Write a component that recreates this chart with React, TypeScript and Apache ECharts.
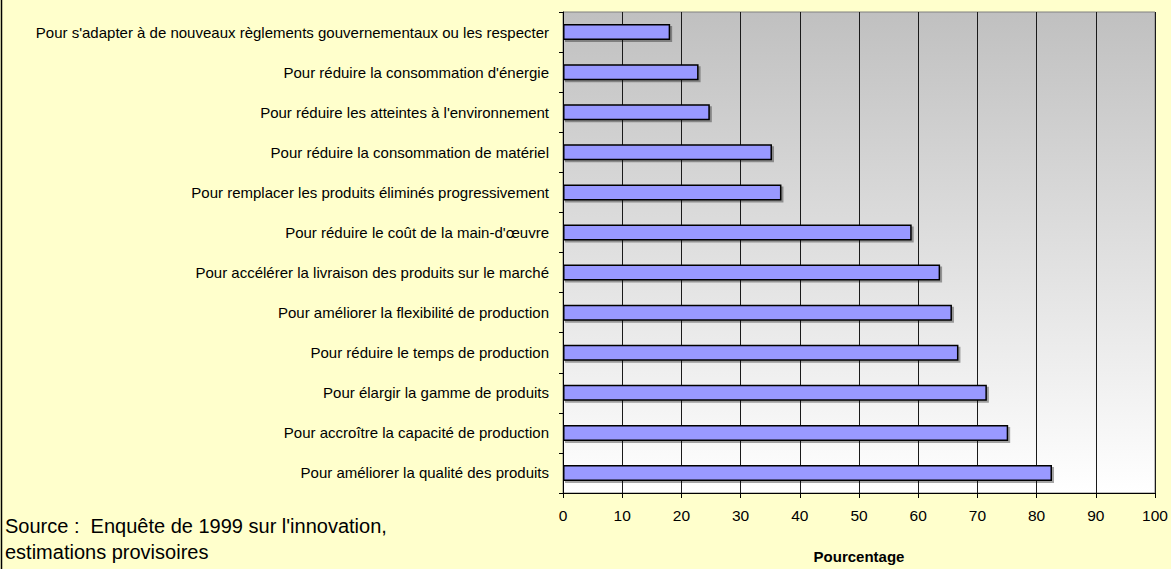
import React, { useEffect, useRef } from "react";
import * as echarts from "echarts";

const categories: string[] = [
  "Pour s'adapter à de nouveaux règlements gouvernementaux ou les respecter",
  "Pour réduire la consommation d'énergie",
  "Pour réduire les atteintes à l'environnement",
  "Pour réduire la consommation de matériel",
  "Pour remplacer les produits éliminés progressivement",
  "Pour réduire le coût de la main-d'œuvre",
  "Pour accélérer la livraison des produits sur le marché",
  "Pour améliorer la flexibilité de production",
  "Pour réduire le temps de production",
  "Pour élargir la gamme de produits",
  "Pour accroître la capacité de production",
  "Pour améliorer la qualité des produits",
];

const values: number[] = [18.1, 22.9, 24.8, 35.3, 36.9, 58.9, 63.7, 65.7, 66.8, 71.6, 75.2, 82.6];

const xTicks: number[] = [0, 10, 20, 30, 40, 50, 60, 70, 80, 90, 100];

const axisTitle = "Pourcentage";
const sourceLines: string[] = ["Source :  Enquête de 1999 sur l'innovation,", "estimations provisoires"];

const FONT = "'Liberation Sans', Arial, sans-serif";

export default function App() {
  const ref = useRef<HTMLDivElement>(null);
  useEffect(() => {
    if (!ref.current) return;
    const chart = echarts.init(ref.current, undefined, { renderer: "svg" });
    chart.setOption({
      animation: false,
      backgroundColor: "#FFFFCC",
      textStyle: { fontFamily: FONT },
      grid: {
        left: 563,
        top: 12,
        right: 16,
        bottom: 75,
        show: true,
        borderColor: "#808080",
        borderWidth: 1,
        backgroundColor: new echarts.graphic.LinearGradient(0, 0, 0, 1, [
          { offset: 0, color: "#C0C0C0" },
          { offset: 1, color: "#FFFFFF" },
        ]),
      },
      xAxis: {
        type: "value",
        min: xTicks[0],
        max: xTicks[xTicks.length - 1],
        interval: 10,
        name: axisTitle,
        nameLocation: "middle",
        nameGap: 56,
        nameTextStyle: { fontFamily: FONT, fontSize: 15, fontWeight: "bold", color: "#000" },
        axisLine: { show: true, lineStyle: { color: "#000", width: 1 } },
        axisTick: { show: true, length: 5, lineStyle: { color: "#000" } },
        axisLabel: { fontFamily: FONT, fontSize: 15.5, color: "#000", margin: 14 },
        splitLine: { show: true, lineStyle: { color: "#1a1a1a", width: 1 } },
      },
      yAxis: {
        type: "category",
        data: categories,
        inverse: true,
        axisLine: { show: true, lineStyle: { color: "#000", width: 1 } },
        axisTick: { show: true, length: 4, lineStyle: { color: "#000" } },
        axisLabel: { fontFamily: FONT, fontSize: 15, color: "#000", margin: 14 },
        splitLine: { show: false },
      },
      series: [
        {
          type: "bar",
          data: values,
          barWidth: 16,
          itemStyle: {
            color: "#9999FF",
            borderColor: "#000",
            borderWidth: 1.5,
            shadowColor: "rgba(0,0,0,0.35)",
            shadowOffsetX: 2,
            shadowOffsetY: 2,
            shadowBlur: 0,
          },
        },
      ],
      graphic: [
        {
          type: "line",
          shape: { x1: 1.5, y1: 0, x2: 1.5, y2: 569 },
          style: { stroke: "#000", lineWidth: 1.5 },
        },
        {
          type: "text",
          left: 5,
          top: 516,
          style: { text: sourceLines[0], fontFamily: FONT, fontSize: 20, fill: "#000" },
        },
        {
          type: "text",
          left: 5,
          top: 542,
          style: { text: sourceLines[1], fontFamily: FONT, fontSize: 20, fill: "#000" },
        },
      ],
    });
    return () => chart.dispose();
  }, []);
  return (
    <div
      ref={ref}
      style={{ position: "fixed", left: 0, top: 0, width: 1171, height: 569 }}
    />
  );
}
